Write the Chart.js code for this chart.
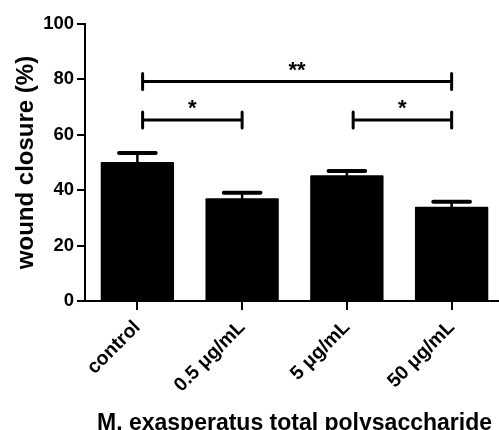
<!DOCTYPE html>
<html>
<head>
<meta charset="utf-8">
<script src="https://cdn.jsdelivr.net/npm/chart.js@4.4.1/dist/chart.umd.min.js"></script>
<style>
  html, body { margin: 0; padding: 0; background: #fff; overflow: hidden; }
  #wrap { width: 505px; height: 430px; position: relative; }
</style>
</head>
<body>
<div id="wrap"><canvas id="woundChart"></canvas></div>
<script>
// data
const groups = ['control', '0.5 μg/mL', '5 μg/mL', '50 μg/mL'];
const closure = [50.2, 37.1, 45.4, 34.0];
const closureErr = [3.2, 2.0, 1.5, 1.8];
const yTicks = [0, 20, 40, 60, 80, 100];

// significance brackets (x in category units, level in %)
const bracketFrom = [0.05, 0.05, 2.06];
const bracketTo = [3, 1, 3];
const bracketLevel = [79.2, 65.3, 65.3];
const bracketLabel = ['**', '*', '*'];

const fontFamily = '"Liberation Sans", Arial, sans-serif';

// draws the SEM whiskers and the significance brackets
const annotations = {
    id: 'annotations',
    afterDatasetsDraw(chart) {
        const ctx = chart.ctx;
        const x = chart.scales.x;
        const y = chart.scales.y;
        const meta = chart.getDatasetMeta(0);
        ctx.save();
        ctx.strokeStyle = '#000';
        ctx.lineCap = 'round';

        meta.data.forEach((bar, i) => {
            const top = y.getPixelForValue(closure[i]);
            const tip = y.getPixelForValue(closure[i] + closureErr[i]);
            const half = bar.width * 0.25;
            ctx.lineWidth = 2.5;
            ctx.beginPath();
            ctx.moveTo(bar.x, top);
            ctx.lineTo(bar.x, tip);
            ctx.stroke();
            ctx.lineWidth = 4;
            ctx.beginPath();
            ctx.moveTo(bar.x - half, tip);
            ctx.lineTo(bar.x + half, tip);
            ctx.stroke();
        });

        bracketLabel.forEach((label, i) => {
            const x1 = x.getPixelForValue(bracketFrom[i]);
            const x2 = x.getPixelForValue(bracketTo[i]);
            const yy = y.getPixelForValue(bracketLevel[i]);
            ctx.lineWidth = 3;
            ctx.beginPath();
            ctx.moveTo(x1, yy);
            ctx.lineTo(x2, yy);
            ctx.moveTo(x1, yy - 8);
            ctx.lineTo(x1, yy + 8);
            ctx.moveTo(x2, yy - 8);
            ctx.lineTo(x2, yy + 8);
            ctx.stroke();
            ctx.fillStyle = '#000';
            ctx.font = 'bold 22px ' + fontFamily;
            ctx.textAlign = 'center';
            ctx.textBaseline = 'middle';
            ctx.fillText(label, (x1 + x2) / 2, yy - 11);
        });
        ctx.restore();
    }
};

const ctx = document.getElementById('woundChart').getContext('2d');
const chart = new Chart(ctx, {
    type: 'bar',
    data: {
        labels: groups,
        datasets: [{
            label: 'wound closure (%)',
            data: closure,
            backgroundColor: '#000',
            borderWidth: 0,
            borderRadius: 1,
            barPercentage: 0.7,
            categoryPercentage: 1.0
        }]
    },
    options: {
        responsive: true,
        maintainAspectRatio: false,
        animation: false,
        layout: {
            padding: { top: 24, right: 1, left: 0, bottom: 0 }
        },
        plugins: {
            legend: { display: false },
            tooltip: { enabled: false }
        },
        scales: {
            x: {
                grid: {
                    offset: false,
                    drawOnChartArea: false,
                    drawTicks: true,
                    tickLength: 9,
                    color: '#000',
                    lineWidth: 2
                },
                border: { color: '#000', width: 2 },
                ticks: {
                    color: '#000',
                    minRotation: 45,
                    maxRotation: 45,
                    padding: 6,
                    font: { family: fontFamily, size: 19.5, weight: 'bold' }
                },
                title: {
                    display: true,
                    text: 'M. exasperatus total polysaccharide',
                    color: '#000',
                    padding: { top: 0, bottom: -7 },
                    font: { family: fontFamily, size: 23, weight: 'bold' }
                },
                afterFit: (scale) => { scale.height = 129; }
            },
            y: {
                min: 0,
                max: 100,
                afterBuildTicks: (scale) => {
                    scale.ticks = yTicks.map(v => ({ value: v }));
                },
                grid: {
                    drawOnChartArea: false,
                    drawTicks: true,
                    tickLength: 8,
                    color: '#000',
                    lineWidth: 2
                },
                border: { color: '#000', width: 2 },
                ticks: {
                    color: '#000',
                    padding: 3,
                    font: { family: fontFamily, size: 18.5, weight: 'bold' }
                },
                title: {
                    display: true,
                    text: 'wound closure (%)',
                    color: '#000',
                    padding: { top: 12, bottom: 0 },
                    font: { family: fontFamily, size: 24, weight: 'bold' }
                },
                afterFit: (scale) => { scale.width = 85; }
            }
        }
    },
    plugins: [annotations]
});
</script>
</body>
</html>
